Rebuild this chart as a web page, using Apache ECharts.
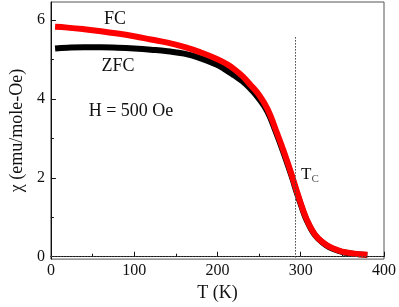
<!DOCTYPE html>
<html>
<head>
<meta charset="utf-8">
<script src="https://cdn.jsdelivr.net/npm/echarts@6/dist/echarts.min.js"></script>
<style>html,body{margin:0;padding:0;background:#fff}#c{width:399px;height:307px}</style>
</head>
<body>
<div id="c"></div>
<script>
// Temperature (K)
var fcT   = [5, 20, 40, 60, 80, 100, 120, 140, 160, 180, 200, 210, 220, 230, 240, 250, 260, 270, 280, 290, 295, 300, 305, 310, 315, 320, 330, 340, 350, 360, 370, 380];
var fcChi = [5.83, 5.81, 5.77, 5.72, 5.66, 5.59, 5.51, 5.43, 5.32, 5.18, 5.01, 4.90, 4.76, 4.58, 4.35, 4.10, 3.75, 3.22, 2.65, 2.02, 1.68, 1.36, 1.06, 0.82, 0.63, 0.49, 0.31, 0.20, 0.13, 0.09, 0.065, 0.05];
var zfcT   = [5, 20, 40, 60, 80, 100, 120, 140, 160, 180, 200, 210, 220, 230, 240, 250, 260, 270, 280, 290, 295, 300, 305, 310, 315, 320, 330, 340, 350, 360, 370, 380];
var zfcChi = [5.28, 5.30, 5.31, 5.31, 5.30, 5.28, 5.25, 5.21, 5.15, 5.03, 4.86, 4.74, 4.60, 4.45, 4.25, 4.00, 3.68, 3.17, 2.60, 1.98, 1.64, 1.33, 1.03, 0.80, 0.61, 0.48, 0.30, 0.19, 0.12, 0.085, 0.06, 0.045];
var xTicks = [0, 100, 200, 300, 400];
var yMajor = [0, 2, 4, 6];
var yMinor = [1, 3, 5];
var Tc = 294;
var tcTop = 5.57;

function pairs(a, b) { return a.map(function (v, i) { return [v, b[i]]; }); }

var font = 'Liberation Serif';
var chart = echarts.init(document.getElementById('c'), null, {renderer: 'canvas'});
chart.setOption({
  animation: false,
  backgroundColor: '#fff',
  textStyle: {fontFamily: font},
  grid: {left: 47.7, right: 15, top: 2, bottom: 40, show: true, borderColor: '#555', borderWidth: 1, backgroundColor: 'transparent'},
  xAxis: {
    type: 'value', min: 0, max: 400, interval: 100,
    axisLine: {lineStyle: {color: '#111', width: 1}},
    axisTick: {inside: true, length: 5, lineStyle: {color: '#111'}},
    minorTick: {show: true, splitNumber: 2, length: 3, lineStyle: {color: '#111'}},
    splitLine: {show: false},
    axisLabel: {margin: 4, fontFamily: font, fontSize: 16, color: '#111'},
    name: 'T (K)', nameLocation: 'middle', nameGap: 22,
    nameTextStyle: {fontFamily: font, fontSize: 18, color: '#111'}
  },
  yAxis: [{
    type: 'value', min: -0.06, max: 6.46,
    axisLine: {show: true, lineStyle: {color: '#111', width: 1}},
    axisTick: {show: true, inside: true, length: 5, customValues: yMajor, lineStyle: {color: '#111'}},
    splitLine: {show: false},
    axisLabel: {margin: 6, fontFamily: font, fontSize: 16, color: '#111', customValues: yMajor},
    name: 'χ (emu/mole-Oe)', nameLocation: 'middle', nameGap: 24, nameRotate: 90,
    nameTextStyle: {fontFamily: font, fontSize: 18, color: '#111'}
  }, {
    type: 'value', min: -0.06, max: 6.46, position: 'left',
    axisLine: {show: false},
    axisTick: {show: true, inside: true, length: 3, customValues: yMinor, lineStyle: {color: '#111'}},
    axisLabel: {show: false},
    splitLine: {show: false}
  }],
  series: [{
    type: 'line', data: pairs(zfcT, zfcChi), smooth: true, showSymbol: false,
    lineStyle: {color: '#000', width: 6}, z: 2
  }, {
    type: 'line', data: pairs(fcT, fcChi), smooth: true, showSymbol: false,
    lineStyle: {color: '#ff0000', width: 6}, z: 3,
    markLine: {
      silent: true, symbol: 'none', label: {show: false},
      lineStyle: {type: [1.5, 1.5], color: '#444', width: 1},
      data: [
        [{coord: [Tc, tcTop]}, {coord: [Tc, -0.06]}],
        [{coord: [0, 0]}, {coord: [400, 0]}]
      ]
    }
  }],
  graphic: [
    {type: 'text', style: {text: 'FC', x: 115, y: 19, textAlign: 'center', textVerticalAlign: 'middle', fontFamily: font, fontSize: 18, fill: '#111'}},
    {type: 'text', style: {text: 'ZFC', x: 118, y: 66, textAlign: 'center', textVerticalAlign: 'middle', fontFamily: font, fontSize: 18, fill: '#111'}},
    {type: 'text', style: {text: 'H = 500 Oe', x: 131, y: 111, textAlign: 'center', textVerticalAlign: 'middle', fontFamily: font, fontSize: 18, fill: '#111'}},
    {type: 'text', style: {text: '{t|T}{s|C}', x: 301, y: 175, textAlign: 'left', textVerticalAlign: 'middle',
      rich: {t: {fontFamily: font, fontSize: 17, fill: '#111'}, s: {fontFamily: font, fontSize: 11, fill: '#555', padding: [9, 0, 0, 0]}}}}
  ]
});
</script>
</body>
</html>
